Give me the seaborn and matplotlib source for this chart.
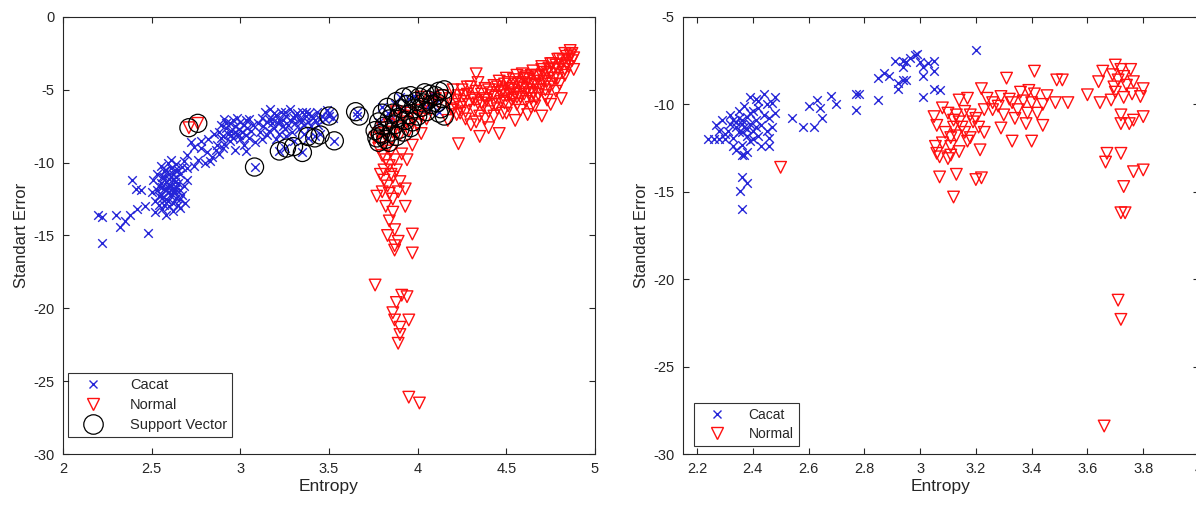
import matplotlib
matplotlib.use("Agg")
import matplotlib.pyplot as plt
import seaborn as sns
import numpy as np
from matplotlib.lines import Line2D
from matplotlib.ticker import FuncFormatter

# ---------------- data: left panel (training set) ----------------
cacat_L = [
    (2.20,-13.6),(2.22,-13.7),(2.22,-15.5),(2.30,-13.6),(2.32,-14.4),(2.35,-14.0),(2.38,-13.6),(2.48,-14.8),
    (2.42,-13.2),(2.39,-11.2),(2.41,-11.8),(2.44,-11.9),(2.46,-13.0),(2.52,-13.4),
    (2.50,-12.0),(2.51,-11.2),(2.52,-12.6),(2.53,-10.8),(2.54,-11.6),(2.54,-12.9),(2.55,-10.2),(2.55,-12.2),
    (2.56,-11.0),(2.56,-13.2),(2.57,-11.8),(2.57,-10.6),(2.58,-12.5),(2.58,-11.3),(2.59,-10.0),(2.59,-12.0),
    (2.60,-11.5),(2.60,-10.8),(2.60,-13.0),(2.61,-12.3),(2.61,-9.8),(2.62,-11.1),(2.62,-12.8),(2.63,-10.5),
    (2.63,-11.8),(2.64,-12.4),(2.64,-10.1),(2.65,-11.4),(2.65,-12.9),(2.66,-10.8),(2.66,-11.9),(2.67,-12.2),
    (2.67,-10.3),(2.68,-11.6),(2.69,-12.8),(2.70,-11.2),(2.70,-10.4),(2.58,-13.6),(2.62,-13.3),(2.57,-12.9),
    (2.53,-11.9),(2.61,-11.6),(2.59,-11.7),(2.63,-12.0),(2.56,-12.4),(2.64,-11.0),(2.66,-13.1),(2.68,-9.9),
    (2.55,-11.4),(2.57,-11.0),(2.59,-12.6),(2.61,-10.4),(2.63,-11.3),(2.65,-10.5),(2.60,-12.0),(2.62,-12.0),
    (2.58,-10.5),(2.54,-12.3),(2.56,-11.7),(2.58,-11.9),(2.60,-11.1),(2.62,-10.8),(2.64,-11.7),(2.66,-12.5),
    (2.70,-9.5),(2.72,-8.6),(2.74,-8.9),(2.76,-9.8),(2.78,-9.0),(2.80,-10.0),(2.81,-9.3),(2.82,-8.4),
    (2.84,-9.6),(2.86,-9.1),(2.87,-8.8),(2.88,-9.4),(2.89,-8.3),(2.78,-8.5),(2.74,-10.2),(2.83,-9.9),
    (2.88,-7.9),(2.89,-7.4),(2.90,-8.2),(2.91,-7.0),(2.91,-8.7),(2.92,-7.6),(2.93,-8.0),(2.94,-7.3),
    (2.94,-8.5),(2.95,-7.8),(2.96,-7.1),(2.96,-8.3),(2.97,-7.5),(2.98,-8.0),(2.98,-6.9),(2.99,-7.7),
    (3.00,-8.4),(3.00,-7.2),(3.01,-7.9),(3.02,-8.8),(3.02,-7.4),(3.03,-8.1),(3.04,-7.6),(3.05,-8.3),
    (3.05,-7.0),(3.06,-7.8),(2.90,-9.0),(2.97,-9.1),(3.03,-9.2),(3.08,-8.6),(2.85,-8.0),(3.10,-7.3),
    (3.11,-7.9),(3.12,-8.4),(2.92,-7.3),(2.95,-8.1),(2.99,-8.1),(3.03,-7.1),(2.97,-7.9),(3.07,-7.4),
    (3.12,-6.9),(3.13,-7.5),(3.14,-6.5),(3.15,-7.2),(3.16,-7.8),(3.17,-6.3),(3.18,-7.0),(3.19,-7.6),
    (3.20,-6.7),(3.21,-7.3),(3.22,-8.0),(3.23,-6.5),(3.24,-7.1),(3.25,-7.7),(3.26,-6.8),(3.27,-7.4),
    (3.28,-6.3),(3.29,-7.9),(3.30,-6.9),(3.31,-7.3),(3.32,-6.6),(3.33,-7.7),(3.34,-7.0),(3.35,-6.5),
    (3.36,-7.4),(3.37,-6.8),(3.38,-7.2),(3.39,-6.6),(3.40,-7.5),(3.41,-6.9),(3.42,-7.1),(3.43,-6.5),
    (3.44,-7.4),(3.46,-6.8),(3.48,-7.0),(3.50,-6.6),(3.52,-6.9),(3.20,-8.4),(3.26,-8.2),(3.15,-8.1),
    (3.30,-8.5),(3.36,-8.0),(3.16,-7.0),(3.19,-6.6),(3.22,-7.1),(3.25,-6.5),(3.28,-7.1),(3.31,-6.7),
    (3.34,-7.2),(3.37,-6.5),(3.40,-6.8),(3.24,-7.5),(3.18,-7.3),(3.45,-7.0),(3.49,-6.4),
    (3.08,-10.3),(3.22,-9.2),(3.25,-9.0),(3.35,-9.3),(3.42,-8.2),(3.38,-8.3),(3.53,-8.5),(3.50,-6.8),
    (3.66,-6.5),(3.66,-6.8),(3.45,-8.0),
    (3.80,-6.2),(3.83,-6.6),(3.87,-6.0),(3.90,-5.5),(3.95,-5.6),(3.98,-5.4),(3.85,-7.0),(3.78,-7.2),
    (4.05,-6.2),(4.10,-6.0),(4.12,-6.5),(3.92,-6.4),(4.08,-5.3),
]
normal_L = [
    (2.71,-7.6),(2.76,-7.3),
    (3.78,-8.0),(3.80,-7.6),(3.82,-8.2),(3.84,-7.4),(3.86,-7.9),(3.88,-7.0),(3.90,-7.6),(3.92,-6.8),
    (3.94,-7.2),(3.96,-6.6),(3.98,-7.0),(4.00,-6.4),(4.02,-6.8),(4.04,-6.0),(4.06,-6.3),(4.08,-5.8),
    (4.10,-5.6),(4.12,-5.9),(3.85,-8.4),(3.95,-7.8),(4.05,-7.0),(3.80,-8.6),(3.90,-8.1),(4.00,-7.4),
    (3.76,-8.3),(4.14,-5.4),(4.02,-5.5),(3.88,-6.5),
    (3.78,-9.0),(3.80,-9.5),(3.82,-9.8),(3.84,-10.2),(3.79,-10.8),(3.88,-10.5),(3.94,-9.8),(3.83,-11.6),
    (3.86,-11.0),(3.90,-11.3),(3.93,-11.8),(3.77,-12.3),(3.80,-12.0),(3.86,-12.5),(3.93,-13.0),(3.86,-13.4),
    (3.82,-13.0),(3.84,-14.0),(3.87,-14.6),(3.97,-14.9),(3.83,-15.0),(3.87,-15.7),(3.89,-15.4),(3.97,-16.2),
    (3.87,-16.0),(3.76,-18.4),(3.91,-19.1),(3.94,-19.2),(3.88,-19.6),(3.86,-20.3),(3.87,-20.8),(3.95,-20.8),
    (3.90,-21.3),(3.90,-21.8),(3.89,-22.4),(3.95,-26.1),(4.01,-26.5),(3.85,-9.2),(3.91,-9.4),(3.97,-8.8),
    (4.02,-8.0),(3.84,-12.1),(3.81,-10.5),(3.85,-10.8),(3.87,-9.8),(3.83,-9.0),(3.89,-12.0),(3.81,-11.2),
    (4.23,-8.7),(4.35,-8.2),(4.46,-8.0),(4.33,-3.9),(4.88,-3.6),(4.70,-6.8),(4.62,-6.7),(4.17,-7.1),
    (4.40,-7.6),(4.30,-7.4),(4.55,-7.1),
    (4.18,-5.6),(4.19,-6.3),(4.20,-5.0),(4.21,-6.0),(4.22,-6.7),(4.23,-5.4),(4.24,-6.2),(4.25,-5.0),
    (4.26,-5.8),(4.27,-6.5),(4.28,-5.3),(4.29,-6.0),(4.30,-4.8),(4.31,-5.6),(4.32,-6.4),(4.33,-5.1),
    (4.34,-5.9),(4.35,-6.8),(4.36,-5.3),(4.37,-6.1),(4.38,-4.9),(4.39,-5.7),(4.40,-6.5),(4.41,-5.2),
    (4.42,-6.0),(4.43,-4.7),(4.44,-5.5),(4.45,-6.3),(4.46,-5.0),(4.47,-5.8),(4.48,-6.6),
    (4.49,-4.6),(4.50,-5.4),(4.51,-6.1),(4.52,-4.9),(4.53,-5.7),(4.54,-4.3),(4.55,-5.2),(4.56,-6.0),
    (4.57,-4.6),(4.58,-5.5),(4.59,-3.9),(4.60,-4.9),(4.61,-5.8),(4.62,-4.3),(4.63,-5.2),(4.64,-6.2),
    (4.65,-3.7),(4.66,-4.7),(4.67,-5.6),(4.68,-4.1),(4.69,-5.0),(4.70,-3.4),(4.71,-4.4),(4.72,-5.4),
    (4.73,-3.8),(4.74,-4.8),(4.75,-6.0),(4.76,-3.2),(4.77,-4.2),(4.78,-5.1),(4.79,-3.6),(4.80,-4.6),
    (4.81,-5.6),(4.82,-3.0),(4.83,-4.0),(4.84,-2.7),(4.85,-3.4),(4.86,-2.6),(4.87,-3.0),(4.88,-2.8),
    (4.80,-2.9),(4.78,-3.3),(4.74,-3.5),(4.70,-4.0),(4.66,-4.4),(4.62,-5.0),(4.58,-4.5),(4.54,-5.6),
    (4.50,-4.2),(4.46,-4.4),(4.42,-5.4),(4.38,-5.6),(4.34,-4.5),(4.28,-4.8),
    (4.45,-4.8),(4.47,-5.2),(4.49,-5.9),(4.51,-4.5),(4.53,-5.0),(4.55,-4.6),(4.57,-5.3),(4.59,-4.8),
    (4.61,-4.1),(4.63,-4.6),(4.65,-5.2),(4.67,-4.0),(4.69,-4.6),(4.71,-3.8),(4.73,-4.4),(4.75,-3.9),
    (4.77,-3.6),(4.79,-4.2),(4.81,-3.3),(4.83,-3.6),(4.85,-2.9),(4.76,-4.6),(4.72,-5.0),(4.68,-5.3),
    (4.64,-5.6),(4.60,-5.3),(4.56,-5.5),(4.52,-5.3),(4.48,-5.1),(4.44,-6.0),(4.40,-5.0),(4.36,-5.9),
    (4.32,-5.7),(4.26,-5.4),(4.22,-5.7),(4.20,-6.4),(4.24,-6.6),(4.84,-3.2),(4.86,-2.3),(4.82,-3.8),
    (4.27,-7.0),(4.33,-7.2),(4.38,-7.0),(4.43,-6.8),(4.50,-6.6),(4.58,-6.4),(4.66,-6.1),(4.73,-5.7),
    (4.87,-2.5),(4.83,-2.5),(4.79,-2.9),(4.75,-3.2),(4.70,-3.6),(4.64,-4.0),(4.60,-4.2),(4.56,-4.0),
]
support_L = [
    (3.08,-10.3),(3.22,-9.2),(3.26,-9.0),(3.30,-8.9),(3.35,-9.3),(3.38,-8.2),(3.42,-8.3),(3.45,-8.1),
    (3.50,-6.8),(3.53,-8.5),(3.65,-6.5),(3.67,-6.8),(2.71,-7.6),(2.76,-7.3),
    (3.76,-7.8),(3.77,-8.3),(3.78,-7.2),(3.79,-8.0),(3.80,-6.6),(3.81,-7.5),(3.82,-8.4),(3.83,-6.2),
    (3.84,-7.0),(3.85,-7.9),(3.86,-6.6),(3.87,-7.4),(3.88,-5.8),(3.89,-6.9),(3.90,-7.7),(3.91,-6.3),
    (3.92,-5.5),(3.93,-7.1),(3.94,-6.0),(3.95,-6.7),(3.96,-5.4),(3.97,-7.2),(3.98,-6.3),(3.99,-5.8),
    (4.00,-6.8),(4.01,-5.5),(4.02,-6.2),(4.03,-5.9),(4.04,-5.2),(4.05,-6.5),(4.06,-5.7),(4.07,-5.3),
    (4.08,-6.0),(4.10,-5.4),(4.11,-5.9),(4.12,-5.1),(4.13,-6.3),(4.14,-5.6),(4.15,-5.0),(3.80,-8.1),
    (3.84,-8.6),(3.88,-8.2),(3.92,-7.9),(3.96,-7.6),(3.78,-8.6),(4.15,-6.8),(4.12,-6.6),
]

# ---------------- data: right panel (test set) ----------------
cacat_R = [
    (2.24,-12.0),(2.26,-12.0),(2.28,-12.0),(2.30,-12.0),
    (2.27,-11.2),(2.29,-10.9),(2.31,-11.5),(2.32,-10.6),(2.33,-11.9),(2.34,-11.0),(2.35,-10.4),(2.35,-11.6),
    (2.36,-12.3),(2.36,-10.9),(2.37,-11.3),(2.37,-10.1),(2.38,-11.8),(2.38,-10.7),(2.39,-11.1),(2.39,-12.1),
    (2.40,-10.4),(2.40,-11.5),(2.41,-9.7),(2.41,-10.9),(2.42,-11.8),(2.42,-10.2),(2.43,-11.2),(2.43,-12.4),
    (2.44,-10.6),(2.44,-9.4),(2.45,-11.5),(2.45,-10.0),(2.46,-10.8),(2.46,-11.9),(2.47,-9.9),(2.47,-11.3),
    (2.48,-10.5),(2.48,-9.6),(2.33,-12.4),(2.34,-12.6),(2.36,-12.9),(2.38,-12.7),(2.39,-9.6),(2.42,-9.8),
    (2.30,-11.7),(2.28,-11.5),(2.32,-11.1),(2.40,-12.0),(2.46,-12.4),(2.37,-12.9),
    (2.34,-11.3),(2.36,-11.1),(2.38,-11.4),(2.35,-10.8),(2.33,-10.9),(2.39,-10.5),(2.41,-11.3),(2.36,-11.6),
    (2.36,-14.15),(2.38,-14.5),(2.355,-14.95),(2.36,-16.0),
    (2.54,-10.8),(2.58,-11.3),(2.60,-10.1),(2.62,-11.3),(2.63,-9.75),(2.64,-10.2),(2.65,-10.8),(2.68,-9.5),
    (2.70,-10.0),(2.77,-9.4),(2.78,-9.4),(2.77,-10.3),(2.85,-9.75),(2.85,-8.5),(2.87,-8.2),(2.89,-8.4),
    (2.92,-9.1),(2.91,-7.5),(2.94,-7.85),(2.95,-7.6),(2.98,-7.2),(2.94,-8.6),(2.92,-8.8),
    (2.94,-7.5),(2.965,-7.35),(2.99,-7.1),(3.00,-7.6),(3.01,-7.85),(3.03,-7.65),(3.05,-7.5),(3.05,-8.1),
    (3.01,-8.4),(2.95,-8.6),(3.01,-9.6),(3.05,-9.1),(3.07,-9.2),(3.20,-6.9),
]
normal_R = [
    (2.50,-13.6),
    (3.07,-14.15),(3.13,-14.0),(3.12,-15.3),(3.20,-14.3),(3.22,-14.2),(3.215,-12.6),(3.055,-12.4),(3.07,-13.0),
    (3.11,-12.9),(3.08,-12.2),(3.05,-10.7),(3.08,-10.2),(3.14,-9.75),(3.17,-9.65),(3.22,-9.1),(3.21,-11.3),
    (3.15,-11.3),(3.12,-10.9),(3.18,-11.9),(3.20,-10.8),(3.06,-11.2),(3.09,-11.6),(3.10,-10.5),(3.13,-11.8),
    (3.16,-10.4),(3.17,-12.1),(3.19,-11.0),(3.11,-12.4),(3.14,-12.7),(3.06,-12.8),(3.10,-13.1),(3.23,-11.6),
    (3.12,-11.3),(3.14,-11.0),(3.16,-11.6),(3.11,-11.9),(3.18,-10.6),(3.13,-10.6),
    (3.31,-8.5),(3.41,-8.1),(3.49,-8.6),(3.51,-8.6),(3.485,-9.9),(3.53,-9.9),(3.29,-11.35),(3.33,-12.1),
    (3.40,-12.1),(3.44,-11.2),(3.42,-10.5),(3.38,-11.1),(3.35,-10.3),(3.26,-9.9),(3.29,-9.55),(3.32,-9.7),
    (3.36,-9.3),(3.39,-9.2),(3.41,-9.4),(3.455,-9.5),(3.24,-9.65),(3.26,-10.3),(3.385,-10.5),(3.23,-10.3),
    (3.28,-10.1),(3.30,-10.6),(3.33,-9.9),(3.37,-9.8),(3.40,-9.9),(3.34,-10.8),(3.44,-10.0),
    (3.60,-9.45),(3.645,-9.9),(3.655,-8.1),(3.70,-7.75),(3.755,-8.0),(3.765,-8.7),(3.80,-9.1),(3.79,-9.55),
    (3.80,-10.7),(3.765,-10.9),(3.72,-11.1),(3.75,-11.1),(3.72,-10.6),(3.67,-12.8),(3.665,-13.3),(3.72,-12.8),
    (3.765,-13.85),(3.80,-13.75),(3.73,-14.7),(3.72,-16.2),(3.735,-16.2),(3.695,-9.0),(3.71,-8.6),(3.73,-8.4),
    (3.685,-9.75),(3.64,-8.7),(3.69,-8.3),(3.72,-8.0),(3.74,-8.9),(3.70,-9.3),(3.73,-9.6),(3.76,-9.4),
    (3.71,-21.2),(3.72,-22.3),(3.66,-28.4),
]

BLUE = "#2525d8"
RED = "#ff1010"
GREY = "#262626"

sns.set_style("ticks")
plt.rcParams["font.family"] = ["Liberation Sans", "DejaVu Sans"]
plt.rcParams.update({
    "xtick.direction": "in", "ytick.direction": "in",
    "xtick.top": True, "ytick.right": True,
    "xtick.major.size": 4, "ytick.major.size": 4,
    "xtick.color": GREY, "ytick.color": GREY,
    "axes.edgecolor": GREY, "axes.linewidth": 0.8,
})

fig = plt.figure(figsize=(11.96, 5.11), dpi=100)
axL = fig.add_axes([63/1196, 57/511, 532/1196, 437/511])
axR = fig.add_axes([683/1196, 57/511, 516/1196, 437/511])


def xy(pts):
    a = np.array(pts)
    return a[:, 0], a[:, 1]


def draw(ax, cacat, normal, support=None):
    x, y = xy(cacat)
    sns.scatterplot(x=x, y=y, marker="x", s=38, color=BLUE, linewidth=1.0, ax=ax, legend=False)
    x, y = xy(normal)
    sns.scatterplot(x=x, y=y, marker="v", s=70, facecolors="none", edgecolors=RED, linewidth=1.0,
                    ax=ax, legend=False)
    if support is not None:
        x, y = xy(support)
        sns.scatterplot(x=x, y=y, marker="o", s=170, facecolors="none", edgecolors="black",
                        linewidth=0.9, ax=ax, legend=False)


draw(axL, cacat_L, normal_L, support_L)
draw(axR, cacat_R, normal_R)

fmt = FuncFormatter(lambda v, p: f"{v:g}")
axL.set_xlim(2, 5)
axL.set_ylim(-30, 0)
axL.set_xticks([2, 2.5, 3, 3.5, 4, 4.5, 5])
axL.set_yticks([-30, -25, -20, -15, -10, -5, 0])
axR.set_xlim(2.15, 4.0)
axR.set_ylim(-30, -5)
axR.set_xticks([2.2, 2.4, 2.6, 2.8, 3.0, 3.2, 3.4, 3.6, 3.8, 4.0])
axR.set_yticks([-30, -25, -20, -15, -10, -5])

for ax in (axL, axR):
    ax.xaxis.set_major_formatter(fmt)
    ax.yaxis.set_major_formatter(fmt)
    ax.tick_params(labelsize=10.5, pad=6)
    for s in ax.spines.values():
        s.set_visible(True)
    ax.set_xlabel("Entropy", fontsize=12.5, color=GREY, labelpad=2)
    ax.set_ylabel("Standart Error", fontsize=12, color=GREY, labelpad=3)

h_c = Line2D([], [], ls="none", marker="x", color=BLUE, ms=5.5, mew=1.0)
h_n = Line2D([], [], ls="none", marker="v", mfc="none", mec=RED, ms=8, mew=1.0)
h_s = Line2D([], [], ls="none", marker="o", mfc="none", mec="black", ms=14, mew=0.9)

legL = axL.legend([h_c, h_n, h_s], ["Cacat", "Normal", "Support Vector"], loc="lower left",
                  bbox_to_anchor=(0.009, 0.039), fontsize=10.5, frameon=True, fancybox=False,
                  edgecolor="black", borderpad=0.35, labelspacing=0.4, handletextpad=1.1,
                  handlelength=2.8, borderaxespad=0)
legL.get_frame().set_linewidth(0.8)
legR = axR.legend([h_c, h_n], ["Cacat", "Normal"], loc="lower left",
                  bbox_to_anchor=(0.021, 0.018), fontsize=10, frameon=True, fancybox=False,
                  edgecolor="black", borderpad=0.35, labelspacing=0.4, handletextpad=1.0,
                  handlelength=2.6, borderaxespad=0)
legR.get_frame().set_linewidth(0.8)

fig.savefig("out.png", dpi=100)
